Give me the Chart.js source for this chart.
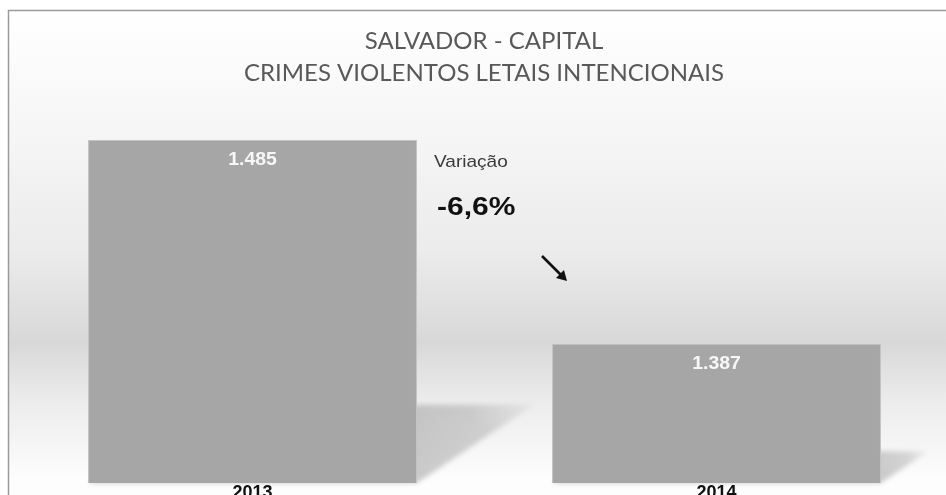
<!DOCTYPE html>
<html>
<head>
<meta charset="utf-8">
<script src="https://cdn.jsdelivr.net/npm/chart.js@4/dist/chart.umd.min.js"></script>
<style>
  html, body { margin: 0; padding: 0; overflow: hidden; background: #fff; }
  #wrap { position: relative; width: 950px; height: 495px; }
</style>
</head>
<body>
<div id="wrap"><canvas id="crimesChart" width="950" height="495"></canvas></div>
<script>
var anos = ["2013", "2014"];
var cvli = [1485, 1387];
var titulo = ["SALVADOR - CAPITAL", "CRIMES VIOLENTOS LETAIS INTENCIONAIS"];
var variacaoTexto = "Variação";
var variacaoValor = "-6,6%";

function milhar(v) {
    return String(v).replace(/\B(?=(\d{3})+(?!\d))/g, ".");
}

// texto com leve alargamento horizontal
function texto(c, s, x, y, esticar) {
    c.save();
    c.translate(x, y);
    c.scale(esticar, 1);
    c.fillText(s, 0, 0);
    c.restore();
}

var fundo = {
    id: "fundo",
    beforeDraw: function (chart) {
        var c = chart.ctx;
        var g = c.createLinearGradient(0, 10, 0, 495);
        g.addColorStop(0, "#ffffff");
        g.addColorStop(0.25, "#f6f6f6");
        g.addColorStop(0.5, "#ebebeb");
        g.addColorStop(0.687, "#d8d8d8");
        g.addColorStop(0.8, "#ebebeb");
        g.addColorStop(0.97, "#fdfdfd");
        c.save();
        c.fillStyle = g;
        c.fillRect(8, 10, chart.width - 8, chart.height - 10);
        c.strokeStyle = "#9a9a9a";
        c.lineWidth = 1.5;
        c.beginPath();
        c.moveTo(8.5, chart.height);
        c.lineTo(8.5, 10.5);
        c.lineTo(chart.width, 10.5);
        c.stroke();

        c.fillStyle = "#595959";
        c.font = "24px Lato";
        c.textAlign = "center";
        c.textBaseline = "middle";
        c.fillText(titulo[0], 484, 41);
        c.fillText(titulo[1], 484, 73);
        c.restore();
    },
    // sombra projetada de cada barra
    beforeDatasetsDraw: function (chart) {
        var c = chart.ctx;
        var B = chart.chartArea.bottom;
        chart.getDatasetMeta(0).data.forEach(function (bar) {
            var p = bar.getProps(["x", "y", "width"], true);
            var L = p.x - p.width / 2, R = p.x + p.width / 2;
            var h = B - p.y;
            var dx = h * 0.34, dy = h * 0.228;
            var g = c.createLinearGradient(R, B, R + dx, B - dy);
            g.addColorStop(0, "rgba(0,0,0,0.2)");
            g.addColorStop(0.6, "rgba(0,0,0,0.15)");
            g.addColorStop(1, "rgba(0,0,0,0.03)");
            c.save();
            c.filter = "blur(2.5px)";
            c.fillStyle = g;
            c.beginPath();
            c.moveTo(L, B);
            c.lineTo(R, B);
            c.lineTo(R + dx, B - dy);
            c.lineTo(L + dx, B - dy);
            c.closePath();
            c.fill();
            c.restore();
        });
    },
    afterDatasetsDraw: function (chart) {
        var c = chart.ctx;
        var B = chart.chartArea.bottom;
        var meta = chart.getDatasetMeta(0);
        c.save();
        c.textAlign = "center";
        meta.data.forEach(function (bar, i) {
            var p = bar.getProps(["x", "y"], true);
            c.textBaseline = "middle";
            c.fillStyle = "#f7f7f7";
            c.font = "bold 18px 'Liberation Sans', Arial";
            texto(c, milhar(cvli[i]), p.x, p.y + 20, 1.08);
            c.fillStyle = "#111";
            c.textBaseline = "top";
            texto(c, anos[i], p.x, B + 1, 1.0);
        });

        // caixa de variacao
        c.textAlign = "left";
        c.textBaseline = "alphabetic";
        c.fillStyle = "#3a3a3a";
        c.font = "17px 'Liberation Sans', Arial";
        texto(c, variacaoTexto, 434, 167, 1.12);
        c.fillStyle = "#111";
        c.font = "bold 25px 'Liberation Sans', Arial";
        texto(c, variacaoValor, 437, 215, 1.2);

        // seta para baixo
        c.strokeStyle = "#111";
        c.fillStyle = "#111";
        c.lineWidth = 2.6;
        c.beginPath();
        c.moveTo(542, 256);
        c.lineTo(562, 276);
        c.stroke();
        c.beginPath();
        c.moveTo(567, 281);
        c.lineTo(556, 278);
        c.lineTo(564, 270);
        c.closePath();
        c.fill();
        c.restore();
    }
};

new Chart(document.getElementById("crimesChart"), {
    type: "bar",
    data: {
        labels: anos,
        datasets: [{
            data: cvli,
            backgroundColor: "#a6a6a6",
            borderColor: "#c4c4c4",
            borderWidth: 1,
            categoryPercentage: 1,
            barPercentage: 0.709
        }]
    },
    options: {
        responsive: false,
        animation: false,
        layout: { padding: { left: 20.5, right: 1.5, top: 140, bottom: 12 } },
        scales: {
            x: { display: false },
            y: { display: false, min: 1320, max: 1485 }
        },
        plugins: {
            legend: { display: false },
            tooltip: { enabled: false }
        }
    },
    plugins: [fundo]
});
</script>
</body>
</html>
